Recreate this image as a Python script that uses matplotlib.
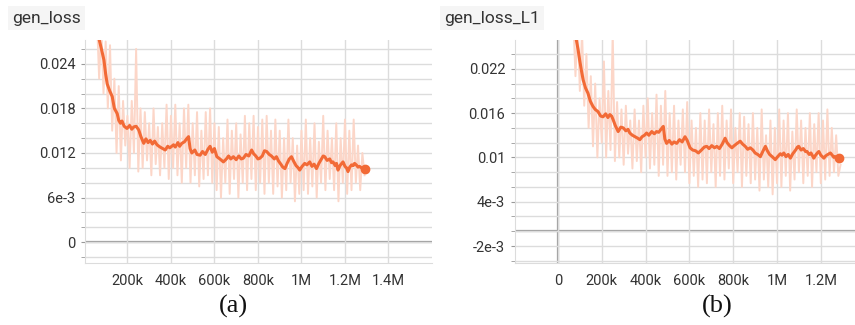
import numpy as np
import matplotlib
matplotlib.use('Agg')
import matplotlib.pyplot as plt
from matplotlib.ticker import MultipleLocator, FixedLocator

# raw loss samples (x1e-3), one every 10k steps
raw_a_start = 60000
raw_a = [30, 22, 29, 20, 27, 18, 26.5, 15, 22, 12, 21, 11, 19, 13, 17, 10, 19, 12, 26, 9.5,
         18, 10, 17.5, 11, 16, 9, 18, 10.5, 15.5, 9, 16, 10, 18.5, 8.5, 17, 10, 18.5, 9, 16, 8,
         18, 10, 18.5, 8, 16, 9, 17.5, 7.5, 15, 8.5, 17.5, 9, 18, 8, 16, 7, 15.5, 6, 14, 8,
         16.5, 6.5, 15, 8.5, 16, 6, 14.5, 8, 17, 7, 16, 8.5, 17, 7, 15.5, 8, 16.5, 6.5, 17, 8,
         15, 6.5, 16.5, 7.5, 15, 6, 14, 7, 16.5, 8, 14, 5.5, 13, 6.5, 15, 7, 16.5, 6.5, 14, 7.5,
         16, 6, 13.5, 8, 17, 7, 15, 8.5, 14, 7, 16, 5.5, 14, 8, 16.5, 6.5, 15, 7, 16.5, 8,
         13, 7, 12, 9]

raw_b_start = 70000
raw_b = [29, 21, 28, 19, 27, 17, 24, 14, 21, 11.5, 20, 10, 18, 12, 23, 10, 19, 11, 27, 9.5,
         17.5, 10, 16.5, 9, 17, 10.5, 15, 8.5, 16.5, 9.5, 15, 8, 17, 10, 18, 8.5, 16, 9, 18.5, 7.5,
         17, 9, 19, 7.5, 16, 8, 17, 7, 15, 9, 16.5, 8, 17.5, 6.5, 15, 7.5, 14, 6, 16, 7,
         15, 6.5, 16.5, 8, 14.5, 6, 16, 7.5, 17, 7, 15, 8.5, 16.5, 6.5, 14, 8, 16, 6, 15.5, 7.5,
         14.5, 6.5, 16, 7, 14, 5.5, 16.5, 7, 13, 6, 15, 5, 14, 6.5, 16.5, 6, 15, 7.5, 16, 5.5,
         13.5, 7, 16.5, 8, 15, 6.5, 14, 7.5, 16, 6, 14.5, 8, 16, 6.5, 15, 7, 16.5, 7.5, 14, 8,
         13, 7.5, 9]

# smoothed curves (steps in k, values x1e-3)
smooth_a_x = [60, 73, 82, 92, 100, 107, 118, 130, 140, 153, 160, 168, 175, 185, 198, 210, 220,
              229, 240, 252, 262, 275, 285, 295, 305, 315, 325, 336, 350, 362, 374, 385, 395,
              412, 420, 432, 440, 450, 462, 472, 481, 488, 496, 510, 520, 534, 545, 558, 570,
              580, 590, 600, 611, 625, 641, 655, 665, 675, 687, 700, 712, 723, 733, 745, 758,
              771, 780, 790, 800, 809, 820, 830, 840, 852, 862, 875, 885, 895, 905, 914, 924,
              934, 944, 954, 964, 975, 985, 992, 1003, 1015, 1025, 1038, 1048, 1058, 1069,
              1080, 1092, 1100, 1107, 1118, 1130, 1138, 1145, 1155, 1161, 1168, 1177, 1185,
              1191, 1200, 1207, 1214, 1222, 1230, 1238, 1244, 1252, 1260, 1267, 1276, 1283, 1290]
smooth_a_y = [28.5, 26.9, 25.8, 24.5, 22.6, 21.3, 20.4, 19.6, 18.0, 17.3, 16.4, 16.0, 16.3, 15.6,
              15.3, 15.7, 15.2, 15.5, 15.6, 15.1, 14.2, 13.3, 13.9, 13.4, 13.7, 13.2, 13.6, 13.1,
              12.8, 12.6, 12.4, 12.9, 12.7, 13.1, 12.8, 13.4, 12.9, 13.3, 13.5, 13.9, 14.2, 12.6,
              12.0, 12.4, 11.8, 11.7, 12.2, 11.8, 12.5, 12.9, 12.1, 12.6, 11.5, 11.2, 10.8, 11.2,
              11.6, 11.2, 11.5, 11.1, 11.6, 11.2, 11.3, 11.8, 11.6, 12.4, 11.9, 11.6, 11.2, 11.3,
              11.6, 12.3, 12.2, 11.8, 11.6, 11.2, 11.5, 10.9, 10.5, 10.1, 9.9, 10.6, 11.2, 11.5,
              10.9, 10.3, 10.0, 9.7, 10.2, 10.6, 10.4, 10.8, 10.2, 10.5, 9.9, 10.6, 11.2, 11.6,
              11.5, 11.0, 11.2, 10.7, 10.8, 10.3, 10.6, 9.7, 10.3, 10.6, 10.8, 10.2, 10.0, 9.5,
              10.1, 10.4, 10.3, 10.6, 10.4, 10.1, 10.2, 10.0, 9.8, 9.9]

smooth_b_x = [75, 84, 92, 99, 107, 115, 126, 137, 148, 160, 170, 183, 195, 206, 218, 228, 237,
              245, 252, 262, 275, 287, 298, 310, 320, 328, 340, 352, 364, 374, 384, 395, 405,
              415, 428, 440, 450, 460, 470, 481, 488, 496, 508, 520, 530, 542, 555, 567, 580,
              590, 603, 615, 628, 641, 655, 668, 679, 690, 702, 715, 725, 737, 750, 763, 772,
              783, 794, 805, 818, 832, 843, 855, 866, 878, 890, 900, 912, 924, 935, 947, 956,
              966, 978, 992, 1003, 1015, 1023, 1031, 1041, 1051, 1061, 1072, 1085, 1093, 1099,
              1110, 1120, 1130, 1137, 1147, 1155, 1168, 1176, 1184, 1191, 1200, 1207, 1214,
              1222, 1232, 1244, 1252, 1260, 1267, 1275, 1282]
smooth_b_y = [27.5, 25.9, 24.6, 23.2, 21.8, 20.5, 19.4, 18.7, 17.6, 16.9, 16.5, 16.2, 15.6, 15.5,
              15.9, 15.4, 15.8, 15.6, 15.1, 14.3, 13.5, 14.1, 14.0, 13.6, 13.8, 13.3, 13.0, 12.8,
              12.6, 12.4, 12.8, 13.0, 13.3, 13.0, 13.5, 13.2, 13.5, 13.4, 13.8, 14.2, 12.5, 11.9,
              12.3, 11.8, 12.1, 11.9, 12.4, 12.1, 12.8, 12.3, 11.3, 11.0, 10.9, 10.6, 11.0, 11.4,
              11.5, 11.2, 11.6, 11.3, 11.5, 11.2, 11.8, 12.6, 12.0, 11.6, 11.3, 11.6, 11.9, 12.2,
              11.8, 11.5, 11.1, 11.3, 11.0, 10.6, 10.4, 10.1, 10.8, 11.5, 10.9, 10.4, 10.1, 9.7,
              10.1, 10.5, 10.3, 10.6, 10.1, 10.4, 9.9, 10.5, 11.0, 11.4, 11.5, 11.0, 11.2, 10.8,
              10.8, 10.4, 10.6, 9.9, 10.3, 10.6, 10.8, 10.3, 10.1, 9.9, 10.2, 10.4, 10.6, 10.3,
              10.0, 10.1, 10.0, 9.9]

yticks_a = [0, 0.006, 0.012, 0.018, 0.024]
yticklabels_a = ['0', '6e-3', '0.012', '0.018', '0.024']
xticks_a = [200000, 400000, 600000, 800000, 1000000, 1200000, 1400000]
xticklabels_a = ['200k', '400k', '600k', '800k', '1M', '1.2M', '1.4M']

yticks_b = [-0.002, 0.004, 0.010, 0.016, 0.022]
yticklabels_b = ['-2e-3', '4e-3', '0.01', '0.016', '0.022']
xticks_b = [0, 200000, 400000, 600000, 800000, 1000000, 1200000]
xticklabels_b = ['0', '200k', '400k', '600k', '800k', '1M', '1.2M']

RAW = '#fcd6c8'
SMOOTH = '#f26a36'
GRID = '#dcdcdc'

plt.rcParams['font.family'] = ['Roboto', 'DejaVu Sans']

W, H = 855, 325
fig = plt.figure(figsize=(W / 100, H / 100), dpi=100)


def make_panel(rect, raw, raw_start, sx, sy, xlim, ylim, yt, ytl, xt, xtl, title, title_x, tag, tag_x, vzero):
    l, t, r, b = rect
    ax = fig.add_axes([l / W, 1 - b / H, (r - l) / W, (b - t) / H])
    steps = raw_start + np.arange(len(raw)) * 10000
    ax.plot(steps, np.array(raw) * 1e-3, color=RAW, lw=1.4, zorder=2)
    ax.plot(np.array(sx) * 1000, np.array(sy) * 1e-3, color=SMOOTH, lw=2.2, zorder=3,
            solid_joinstyle='round')
    ax.plot(sx[-1] * 1000, sy[-1] * 1e-3, 'o', color=SMOOTH, ms=6, zorder=4)
    ax.set_xlim(*xlim)
    ax.set_ylim(*ylim)
    ax.yaxis.set_major_locator(FixedLocator(yt))
    ax.set_yticklabels(ytl)
    ax.yaxis.set_minor_locator(MultipleLocator(0.002))
    ax.xaxis.set_major_locator(FixedLocator(xt))
    ax.set_xticklabels(xtl)
    ax.grid(True, which='both', axis='y', color=GRID, lw=1.0, zorder=0)
    ax.grid(True, which='major', axis='x', color=GRID, lw=1.0, zorder=0)
    ax.axhline(0, color='#9a9a9a', lw=1.6, zorder=1)
    if vzero:
        ax.axvline(0, color='#9a9a9a', lw=1.6, zorder=1)
    for side in ['top', 'right']:
        ax.spines[side].set_visible(False)
    for side in ['left', 'bottom']:
        ax.spines[side].set_color(GRID)
    ax.tick_params(axis='y', which='both', length=3, color='#999999', labelsize=10.5,
                   labelcolor='#333333', pad=4)
    ax.tick_params(axis='x', length=0, labelsize=10.5, labelcolor='#333333', pad=8)
    fig.text(title_x / W, 1 - 18 / H, title, fontsize=12.5, color='#333333', va='center',
             bbox=dict(facecolor='#f5f5f5', edgecolor='none', pad=3))
    fig.text(tag_x / W, 1 - 306 / H, tag, fontsize=19, family='Liberation Serif',
             ha='center', va='center', color='#111111')
    return ax


make_panel((85, 40, 432, 263), raw_a, raw_a_start, smooth_a_x, smooth_a_y,
           (5000, 1600000), (-0.0028, 0.0272), yticks_a, yticklabels_a, xticks_a, xticklabels_a,
           'gen_loss', 12, '(a)', 233, False)
make_panel((515, 40, 855, 263), raw_b, raw_b_start, smooth_b_x, smooth_b_y,
           (-196000, 1356000), (-0.0043, 0.0259), yticks_b, yticklabels_b, xticks_b, xticklabels_b,
           'gen_loss_L1', 444, '(b)', 717, True)

fig.savefig('out.png', dpi=100, facecolor='white')
